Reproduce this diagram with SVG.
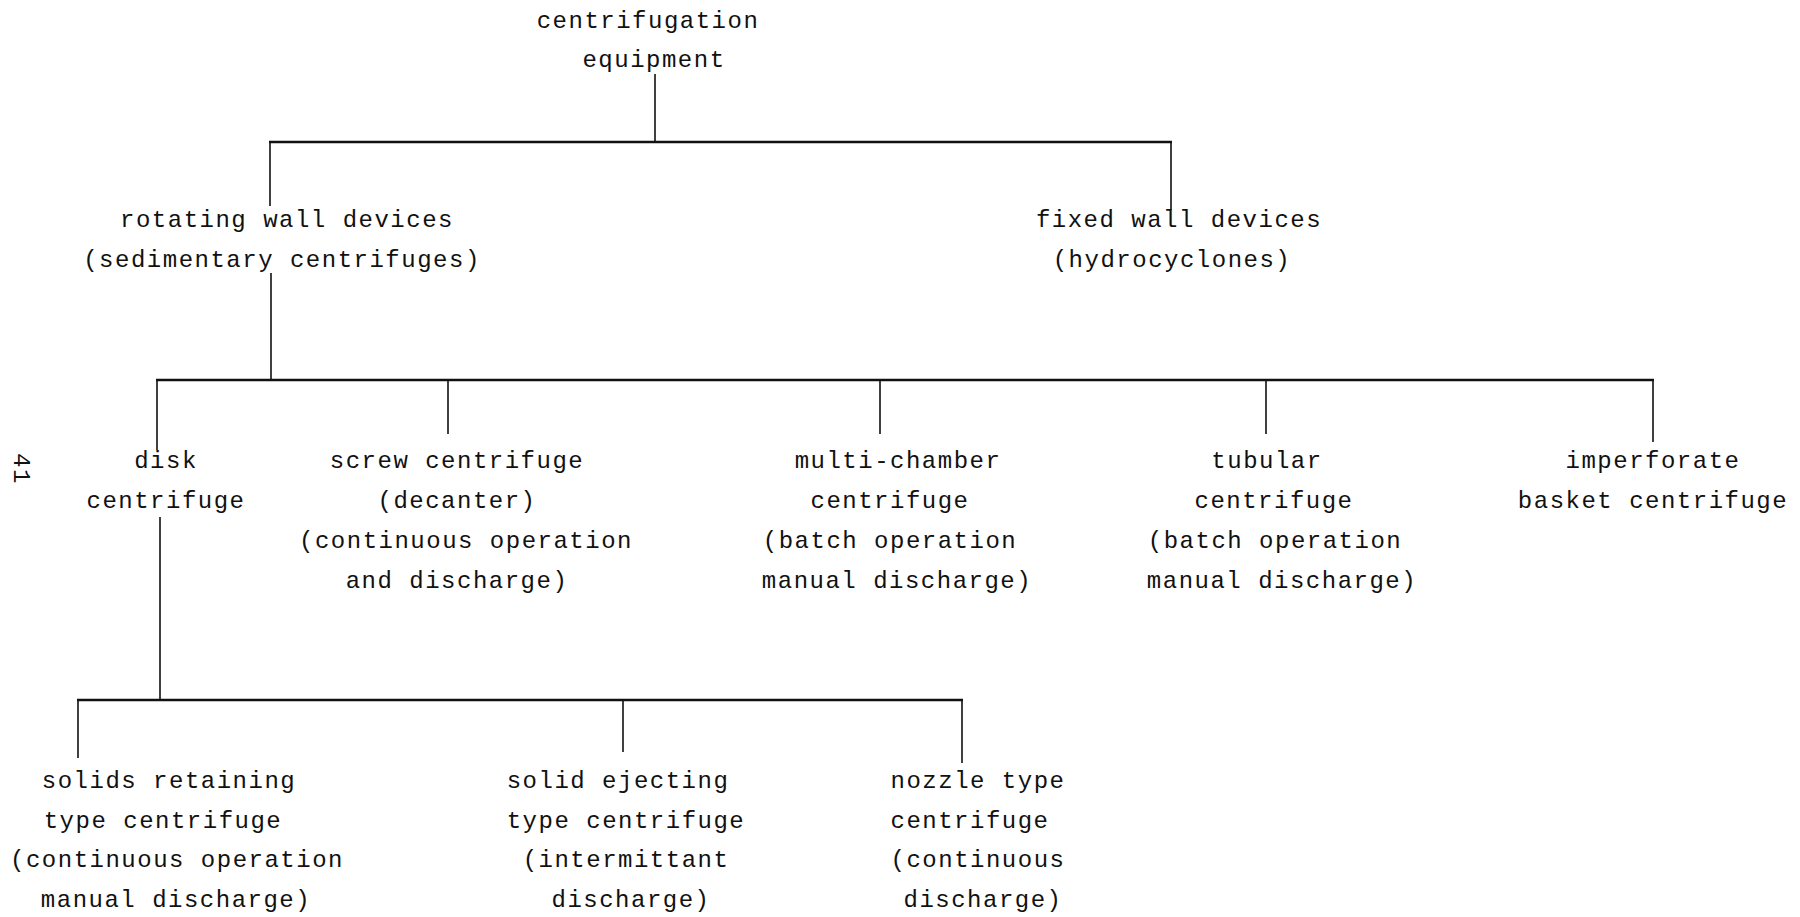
<svg xmlns="http://www.w3.org/2000/svg" width="1800" height="917" viewBox="0 0 1800 917">
  <style>
    text { font-family: "Liberation Mono", "DejaVu Sans Mono", monospace; font-size: 24px; letter-spacing: 1.5px; fill: #111; text-anchor: middle; }
    .bar { stroke: #111; stroke-width: 2.6; fill: none; }
    .drop { stroke: #111; stroke-width: 1.6; fill: none; }
  </style>
  <rect width="1800" height="917" fill="#fff"/>

  <!-- page number -->
  <text transform="translate(14,469) rotate(90)" style="font-size:24px">41</text>

  <g id="connectors">
    <!-- root to first level -->
    <line class="drop" x1="655" y1="74" x2="655" y2="142"/>
    <line class="bar" x1="269" y1="142" x2="1172" y2="142"/>
    <line class="drop" x1="270" y1="142" x2="270" y2="206"/>
    <line class="drop" x1="1171" y1="142" x2="1171" y2="210"/>
    <!-- rotating wall devices to second level -->
    <line class="drop" x1="271" y1="273" x2="271" y2="380"/>
    <line class="bar" x1="156" y1="380" x2="1654" y2="380"/>
    <line class="drop" x1="157" y1="380" x2="157" y2="450"/>
    <line class="drop" x1="448" y1="380" x2="448" y2="434"/>
    <line class="drop" x1="880" y1="380" x2="880" y2="434"/>
    <line class="drop" x1="1266" y1="380" x2="1266" y2="434"/>
    <line class="drop" x1="1653" y1="380" x2="1653" y2="442"/>
    <!-- disk centrifuge to third level -->
    <line class="drop" x1="160" y1="517" x2="160" y2="700"/>
    <line class="bar" x1="77" y1="700" x2="963" y2="700"/>
    <line class="drop" x1="78" y1="700" x2="78" y2="758"/>
    <line class="drop" x1="623" y1="700" x2="623" y2="752"/>
    <line class="drop" x1="962" y1="700" x2="962" y2="763"/>
  </g>

  <g id="root">
    <text x="648" y="28">centrifugation</text>
    <text x="654" y="67">equipment</text>
  </g>

  <g id="rotating-wall">
    <text x="287" y="227">rotating wall devices</text>
    <text x="282" y="267">(sedimentary centrifuges)</text>
  </g>

  <g id="fixed-wall">
    <text x="1179" y="227">fixed wall devices</text>
    <text x="1172" y="267">(hydrocyclones)</text>
  </g>

  <g id="disk">
    <text x="166" y="468">disk</text>
    <text x="166" y="508">centrifuge</text>
  </g>

  <g id="screw">
    <text x="457" y="468">screw centrifuge</text>
    <text x="457" y="508">(decanter)</text>
    <text x="466" y="548">(continuous operation</text>
    <text x="457" y="588">and discharge)</text>
  </g>

  <g id="multi-chamber">
    <text x="898" y="468">multi-chamber</text>
    <text x="890" y="508">centrifuge</text>
    <text x="890" y="548">(batch operation</text>
    <text x="897" y="588">manual discharge)</text>
  </g>

  <g id="tubular">
    <text x="1267" y="468">tubular</text>
    <text x="1274" y="508">centrifuge</text>
    <text x="1275" y="548">(batch operation</text>
    <text x="1282" y="588">manual discharge)</text>
  </g>

  <g id="imperforate">
    <text x="1653" y="468">imperforate</text>
    <text x="1653" y="508">basket centrifuge</text>
  </g>

  <g id="solids-retaining">
    <text x="169" y="788">solids retaining</text>
    <text x="163" y="828">type centrifuge</text>
    <text x="177" y="867">(continuous operation</text>
    <text x="176" y="907">manual discharge)</text>
  </g>

  <g id="solid-ejecting">
    <text x="618" y="788">solid ejecting</text>
    <text x="626" y="828">type centrifuge</text>
    <text x="626" y="867">(intermittant</text>
    <text x="631" y="907">discharge)</text>
  </g>

  <g id="nozzle">
    <text x="978" y="788">nozzle type</text>
    <text x="970" y="828">centrifuge</text>
    <text x="978" y="867">(continuous</text>
    <text x="983" y="907">discharge)</text>
  </g>
</svg>
